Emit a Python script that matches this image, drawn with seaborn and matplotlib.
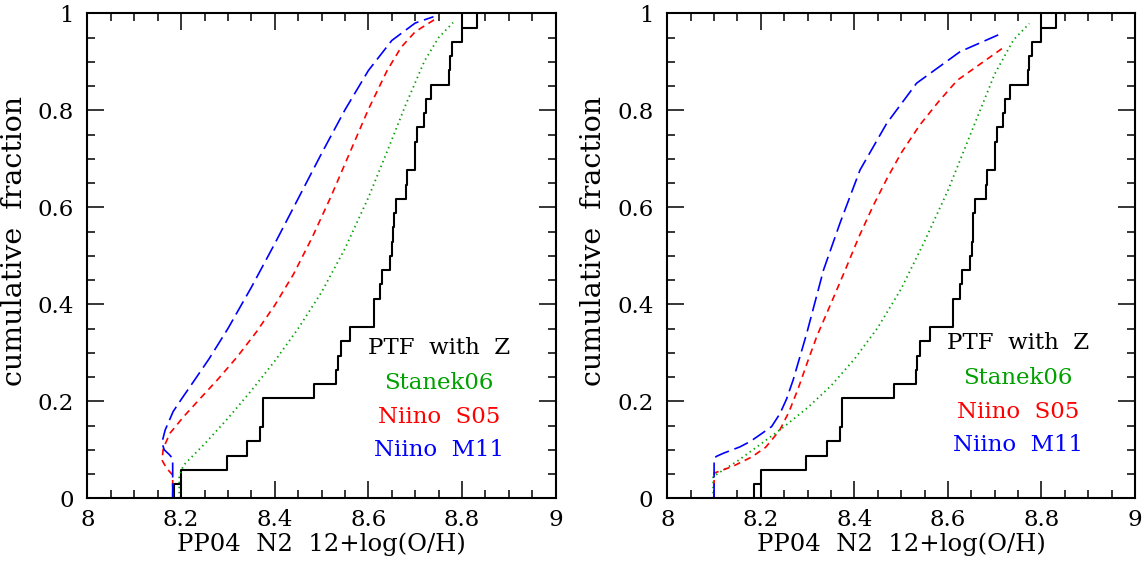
import matplotlib
matplotlib.use("Agg")
import matplotlib.pyplot as plt
import seaborn as sns
import numpy as np

# ---- data ----
ptf_z = [8.1858, 8.1993, 8.2975, 8.3409, 8.3694, 8.3744, 8.3744, 8.4847, 8.5310,
         8.5345, 8.5409, 8.5616, 8.6114, 8.6114, 8.6256, 8.6292, 8.6470, 8.6505,
         8.6527, 8.6541, 8.6584, 8.6803, 8.6830, 8.7000, 8.7000, 8.7045, 8.7187,
         8.7230, 8.7330, 8.7720, 8.7740, 8.7790, 8.7990, 8.8310]

# left panel model curves
L_stanek_x = [8.196, 8.196, 8.205, 8.250, 8.300, 8.350, 8.400, 8.450, 8.500, 8.550,
              8.600, 8.640, 8.680, 8.720, 8.750, 8.781]
L_stanek_y = [0.000, 0.045, 0.068, 0.112, 0.165, 0.222, 0.283, 0.350, 0.425, 0.515,
              0.620, 0.715, 0.812, 0.902, 0.950, 0.981]
L_s05_x = [8.182, 8.182, 8.169, 8.159, 8.162, 8.176, 8.205, 8.240, 8.280, 8.320,
           8.360, 8.400, 8.440, 8.480, 8.520, 8.560, 8.600, 8.640, 8.670, 8.700, 8.746]
L_s05_y = [0.000, 0.048, 0.062, 0.079, 0.103, 0.134, 0.168, 0.205, 0.247, 0.292,
           0.342, 0.398, 0.462, 0.538, 0.622, 0.712, 0.802, 0.882, 0.930, 0.962, 0.990]
L_m11_x = [8.182, 8.182, 8.175, 8.164, 8.159, 8.166, 8.183, 8.201, 8.226, 8.260,
           8.300, 8.350, 8.400, 8.450, 8.500, 8.550, 8.600, 8.650, 8.700, 8.739]
L_m11_y = [0.000, 0.082, 0.090, 0.100, 0.115, 0.141, 0.179, 0.205, 0.240, 0.288,
           0.350, 0.435, 0.525, 0.618, 0.711, 0.801, 0.882, 0.944, 0.980, 0.993]

# right panel model curves
R_stanek_x = [8.098, 8.098, 8.150, 8.200, 8.250, 8.300, 8.350, 8.400, 8.450, 8.500,
              8.550, 8.600, 8.650, 8.700, 8.740, 8.774]
R_stanek_y = [0.000, 0.045, 0.077, 0.112, 0.148, 0.187, 0.232, 0.287, 0.352, 0.432,
              0.530, 0.635, 0.755, 0.875, 0.945, 0.979]
R_s05_x = [8.100, 8.100, 8.140, 8.180, 8.210, 8.240, 8.260, 8.280, 8.300, 8.320,
           8.350, 8.380, 8.410, 8.440, 8.470, 8.500, 8.540, 8.580, 8.620, 8.718]
R_s05_y = [0.000, 0.052, 0.066, 0.085, 0.105, 0.140, 0.178, 0.227, 0.282, 0.335,
           0.402, 0.470, 0.540, 0.603, 0.660, 0.712, 0.770, 0.818, 0.862, 0.929]
R_m11_x = [8.100, 8.100, 8.106, 8.120, 8.155, 8.177, 8.198, 8.223, 8.241, 8.255,
           8.269, 8.298, 8.334, 8.369, 8.412, 8.469, 8.533, 8.626, 8.718]
R_m11_y = [0.000, 0.083, 0.087, 0.093, 0.106, 0.117, 0.131, 0.148, 0.175, 0.205,
           0.244, 0.340, 0.471, 0.567, 0.677, 0.773, 0.856, 0.921, 0.960]

labels = ["PTF  with  Z", "Stanek06", "Niino  S05", "Niino  M11"]
label_colors = ["black", "#00A000", "#FF0000", "#0000FF"]
left_label_pos = (8.751, [0.310, 0.238, 0.168, 0.100])
right_label_pos = (8.750, [0.320, 0.248, 0.178, 0.110])

xticks = [8, 8.2, 8.4, 8.6, 8.8, 9]
xtick_labels = ["8", "8.2", "8.4", "8.6", "8.8", "9"]
yticks = [0, 0.2, 0.4, 0.6, 0.8, 1]
ytick_labels = ["0", "0.2", "0.4", "0.6", "0.8", "1"]

# ---- style ----
sns.set_style("ticks")
plt.rcParams['font.family'] = ['DejaVu Serif']
FS = 16.5

fig = plt.figure(figsize=(11.48, 5.65), dpi=100)
axL = fig.add_axes([0.0762, 0.118, 0.4078, 0.8584])
axR = fig.add_axes([0.5813, 0.118, 0.4074, 0.8584])

def draw(ax, st, s05, m11, lpos):
    n = len(ptf_z)
    sns.ecdfplot(x=ptf_z, ax=ax, color="black", lw=1.5)
    # end-segments drawn by the original plotting routine
    ax.vlines([ptf_z[1]], 0, 1.0 / n, color="black", lw=1.5)
    ax.vlines([ptf_z[-2]], (n - 1) / n, 1.0, color="black", lw=1.5)
    sns.lineplot(x=st[0], y=st[1], sort=False, estimator=None, ax=ax,
                 color="#00A000", lw=1.3)
    ax.lines[-1].set_linestyle((0, (0.8, 2.0)))
    sns.lineplot(x=s05[0], y=s05[1], sort=False, estimator=None, ax=ax,
                 color="#FF0000", lw=1.2)
    ax.lines[-1].set_linestyle((0, (4.0, 3.0)))
    sns.lineplot(x=m11[0], y=m11[1], sort=False, estimator=None, ax=ax,
                 color="#0000FF", lw=1.2)
    ax.lines[-1].set_linestyle((0, (9.0, 3.5)))
    ax.set_xlim(8, 9)
    ax.set_ylim(0, 1)
    ax.set_xticks(xticks)
    ax.set_xticklabels(xtick_labels)
    ax.set_yticks(yticks)
    ax.set_yticklabels(ytick_labels)
    ax.set_xticks(np.arange(8, 9.001, 0.05), minor=True)
    ax.set_yticks(np.arange(0, 1.001, 0.05), minor=True)
    ax.tick_params(which="both", direction="in", top=True, right=True,
                   width=1.1, colors="black", labelsize=FS)
    ax.tick_params(which="major", length=12, pad=8)
    ax.tick_params(axis="y", which="major", pad=10)
    ax.tick_params(which="minor", length=6)
    for sp in ax.spines.values():
        sp.set_linewidth(1.5)
        sp.set_color("black")
    ax.set_xlabel("PP04  N2  12+log(O/H)", fontsize=17.5, color="black")
    ax.set_ylabel("cumulative  fraction", fontsize=20.5, color="black")
    ax.yaxis.set_label_coords(-0.128, 0.53)
    ax.xaxis.set_label_coords(0.5, -0.070)
    xl, ys = lpos
    for t, c, y in zip(labels, label_colors, ys):
        ax.text(xl, y, t, color=c, fontsize=FS, ha="center", va="center")

draw(axL, (L_stanek_x, L_stanek_y), (L_s05_x, L_s05_y), (L_m11_x, L_m11_y), left_label_pos)
draw(axR, (R_stanek_x, R_stanek_y), (R_s05_x, R_s05_y), (R_m11_x, R_m11_y), right_label_pos)

fig.savefig("out.png", dpi=100)
